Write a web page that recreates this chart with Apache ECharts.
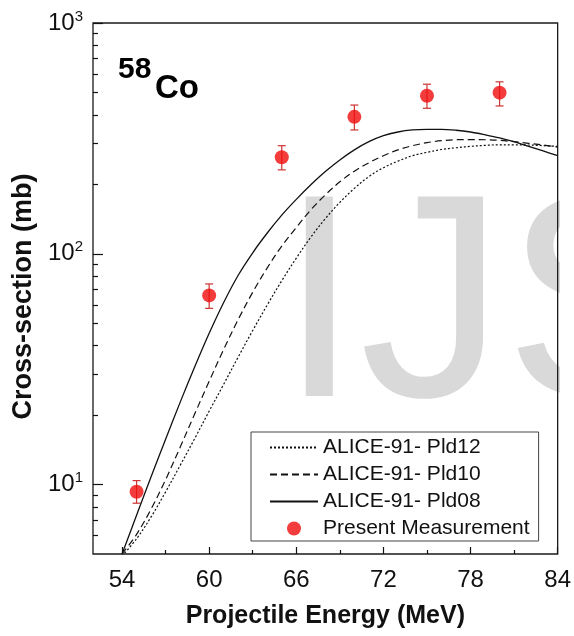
<!DOCTYPE html>
<html>
<head>
<meta charset="utf-8">
<title>58Co cross-section</title>
<script src="https://cdn.jsdelivr.net/npm/echarts@6/dist/echarts.min.js"></script>
<style>
  html, body { margin: 0; padding: 0; background: #fff; }
  #chart { width: 574px; height: 636px; }
</style>
</head>
<body>
<div id="chart"></div>
<script>
const energy = [54, 55, 56, 57, 58, 59, 60, 61, 62, 63, 64, 65, 66, 67, 68, 69,
  70, 71, 72, 73, 74, 75, 76, 77, 78, 79, 80, 81, 82, 83, 84]

// ALICE-91 curves (mb)
const pld12 = [4.9, 5.82, 7.24, 9.29, 12.1, 15.8, 20.8, 27.2, 35.7, 46.5, 60.0, 76.4, 95.7, 118, 142, 167,
  192, 216, 236, 252, 266, 275, 283, 288, 292, 295, 296.5, 296.5, 296, 294, 292]
const pld10 = [5.0, 6.08, 7.83, 10.5, 14.5, 20.2, 28.0, 38.5, 51.9, 68.1, 86.9, 108, 130, 155, 180, 205,
  228, 248, 266, 282, 294, 303, 309, 312, 312.5, 312, 310, 306, 301, 296, 290]
const pld08 = [5.0, 7.36, 10.8, 15.7, 22.7, 32.3, 45.2, 61.5, 80.7, 101, 123, 147, 172, 199, 227, 255,
  282, 306, 325, 337, 344, 346, 346, 343, 337, 328, 318, 306, 292, 279, 266]

// measured points
const measE = [55, 60, 65, 70, 75, 80]
const measXS = [9.3, 66, 262, 392, 484, 499]
const measLow = [8.3, 58, 231, 344, 427, 437]
const measHigh = [10.4, 74, 294, 441, 543, 556]

// axis ticks
const xMajor = [54, 60, 66, 72, 78, 84]
const xMinor = [57, 63, 69, 75, 81]
const yMajor = [10, 100, 1000]
const yMinor = [6, 7, 8, 9, 20, 30, 40, 50, 60, 70, 80, 90, 200, 300, 400, 500, 600, 700, 800, 900]

const font = 'Liberation Sans, Arial, sans-serif'
const chart = echarts.init(document.getElementById('chart'))

const zip = (xs, ys) => xs.map((x, i) => [x, ys[i]])
// line legend entries: hide the little circle echarts puts on line icons
const lineEntry = name => ({ name, itemStyle: { color: 'rgba(0,0,0,0)', borderWidth: 0 } })

const option = {
  animation: false,
  backgroundColor: '#fff',
  grid: {
    left: 93, right: 15, top: 23, bottom: 82,
    show: true, borderColor: '#1a1a1a', borderWidth: 1.3, backgroundColor: 'transparent'
  },
  graphic: [
    // faint watermark behind the plot
    {
      type: 'text', left: 279, top: 316 - 145, z: -10, silent: true,
      style: { text: 'IJS', font: '290px ' + font, fill: '#d9d9d9' }
    },
    { type: 'rect', shape: { x: 560, y: 150, width: 20, height: 300 }, style: { fill: '#fff' }, z: -5 },
    {
      type: 'text', left: 118, top: 55, z: 10,
      style: { text: '58', font: 'bold 30px ' + font, fill: '#000' }
    },
    {
      type: 'text', left: 155, top: 72, z: 10,
      style: { text: 'Co', font: 'bold 33px ' + font, fill: '#000' }
    }
  ],
  legend: {
    left: 251, top: 432,
    orient: 'vertical',
    data: [
      lineEntry('ALICE-91- Pld12'),
      lineEntry('ALICE-91- Pld10'),
      lineEntry('ALICE-91- Pld08'),
      'Present Measurement'
    ],
    itemWidth: 48, itemHeight: 14, itemGap: 6,
    padding: [5, 9, 2, 18],
    borderColor: '#444', borderWidth: 1, backgroundColor: '#fff',
    textStyle: { fontFamily: font, fontSize: 21, color: '#111', lineHeight: 20 }
  },
  xAxis: [
    {
      type: 'value', min: 52, max: 84,
      name: 'Projectile Energy (MeV)', nameLocation: 'middle', nameGap: 50,
      nameTextStyle: { fontFamily: font, fontWeight: 'bold', fontSize: 25, color: '#111' },
      axisLine: { show: false },
      splitLine: { show: false },
      axisTick: { inside: true, length: 7, customValues: xMajor, lineStyle: { color: '#111', width: 1.2 } },
      axisLabel: { customValues: xMajor, margin: 14, fontFamily: font, fontSize: 24, color: '#111' }
    },
    {
      type: 'value', min: 52, max: 84, position: 'bottom',
      axisLine: { show: false }, splitLine: { show: false },
      axisTick: { inside: true, length: 4, customValues: xMinor, lineStyle: { color: '#111', width: 1.2 } },
      axisLabel: { show: false }
    }
  ],
  yAxis: [
    {
      type: 'log', logBase: 10, min: 5, max: 1000,
      name: 'Cross-section (mb)', nameLocation: 'middle', nameGap: 55,
      nameTextStyle: {
        fontFamily: font, fontWeight: 'bold', fontSize: 27, color: '#111',
        padding: [0, 16, 0, 0]
      },
      axisLine: { show: false },
      splitLine: { show: false },
      axisTick: { inside: true, length: 10, customValues: yMajor, lineStyle: { color: '#111', width: 1.2 } },
      axisLabel: {
        customValues: yMajor, margin: 10, color: '#111',
        formatter: v => '{b|10}{s|' + Math.round(Math.log10(v)) + '}',
        rich: {
          b: { fontFamily: font, fontSize: 24, lineHeight: 28, color: '#111' },
          s: { fontFamily: font, fontSize: 15, verticalAlign: 'top', color: '#111' }
        }
      }
    },
    {
      type: 'log', logBase: 10, min: 5, max: 1000, position: 'left',
      axisLine: { show: false }, splitLine: { show: false },
      axisTick: { inside: true, length: 5, customValues: yMinor, lineStyle: { color: '#111', width: 1.2 } },
      axisLabel: { show: false }
    }
  ],
  series: [
    {
      name: 'ALICE-91- Pld12', type: 'line', data: zip(energy, pld12),
      symbol: 'none', smooth: 0.35, color: '#111',
      lineStyle: { color: '#111', width: 1.2, type: [2, 2] }
    },
    {
      name: 'ALICE-91- Pld10', type: 'line', data: zip(energy, pld10),
      symbol: 'none', smooth: 0.35, color: '#111',
      lineStyle: { color: '#111', width: 1.2, type: [7, 4] }
    },
    {
      name: 'ALICE-91- Pld08', type: 'line', data: zip(energy, pld08),
      symbol: 'none', smooth: 0.35, color: '#111',
      lineStyle: { color: '#111', width: 1.3 }
    },
    {
      name: 'err', type: 'custom', z: 3,
      data: measE.map((e, i) => [e, measLow[i], measHigh[i]]),
      encode: { x: 0, y: [1, 2] },
      renderItem: (params, api) => {
        const top = api.coord([api.value(0), api.value(2)])
        const bot = api.coord([api.value(0), api.value(1)])
        const w = 4
        const st = { stroke: '#cc3333', lineWidth: 1.2 }
        return {
          type: 'group',
          children: [
            { type: 'line', shape: { x1: top[0], y1: top[1], x2: bot[0], y2: bot[1] }, style: st },
            { type: 'line', shape: { x1: top[0] - w, y1: top[1], x2: top[0] + w, y2: top[1] }, style: st },
            { type: 'line', shape: { x1: bot[0] - w, y1: bot[1], x2: bot[0] + w, y2: bot[1] }, style: st }
          ]
        }
      }
    },
    {
      name: 'Present Measurement', type: 'scatter', z: 4,
      data: zip(measE, measXS),
      symbol: 'circle', symbolSize: 14,
      itemStyle: { color: '#f00d0d' }
    }
  ]
}

chart.setOption(option)
</script>
</body>
</html>
